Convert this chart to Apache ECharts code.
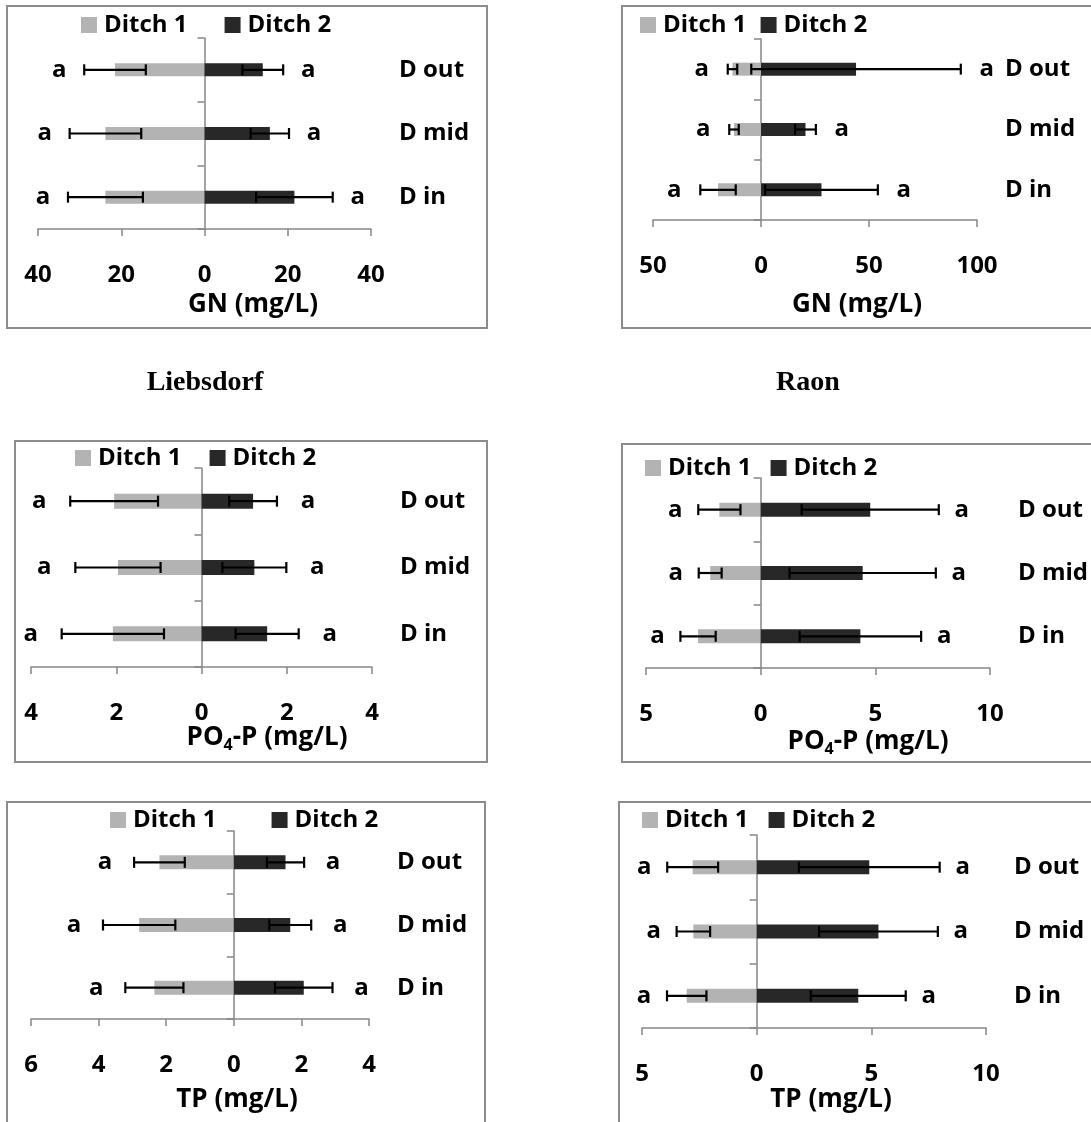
<!DOCTYPE html>
<html>
<head>
<meta charset="utf-8">
<script src="https://cdn.jsdelivr.net/npm/echarts@6/dist/echarts.min.js"></script>
<style>
html,body{margin:0;padding:0;background:#fff;}
#chart{width:1091px;height:1122px;}
</style>
</head>
<body>
<div id="chart"></div>
<script>
// ---------------- DATA ----------------
const categories = ['D in', 'D mid', 'D out'];
const seriesNames = ['Ditch 1', 'Ditch 2'];

// GN (mg/L) – Liebsdorf
const gnL_d1 = [23.8, 23.8, 21.5];
const gnL_d1Err = [9.0, 8.6, 7.4];
const gnL_d2 = [21.6, 15.7, 14.0];
const gnL_d2Err = [9.2, 4.6, 4.9];
// GN (mg/L) – Raon
const gnR_d1 = [19.9, 12.5, 13.2];
const gnR_d1Err = [8.2, 2.2, 2.2];
const gnR_d2 = [28.0, 20.6, 44.0];
const gnR_d2Err = [26.1, 4.8, 48.5];
// PO4-P (mg/L) – Liebsdorf
const poL_d1 = [2.08, 1.96, 2.05];
const poL_d1Err = [1.2, 1.0, 1.03];
const poL_d2 = [1.54, 1.24, 1.21];
const poL_d2Err = [0.74, 0.75, 0.56];
// PO4-P (mg/L) – Raon
const poR_d1 = [2.73, 2.2, 1.8];
const poR_d1Err = [0.77, 0.5, 0.92];
const poR_d2 = [4.35, 4.45, 4.78];
const poR_d2Err = [2.65, 3.19, 2.99];
// TP (mg/L) – Liebsdorf
const tpL_d1 = [2.35, 2.8, 2.2];
const tpL_d1Err = [0.86, 1.07, 0.75];
const tpL_d2 = [2.07, 1.67, 1.53];
const tpL_d2Err = [0.85, 0.62, 0.55];
// TP (mg/L) – Raon
const tpR_d1 = [3.05, 2.76, 2.79];
const tpR_d1Err = [0.86, 0.73, 1.11];
const tpR_d2 = [4.43, 5.31, 4.91];
const tpR_d2Err = [2.07, 2.59, 3.07];

// significance letters
const letters_d1 = ['a', 'a', 'a'];
const letters_d2 = ['a', 'a', 'a'];

// tick labels (Ditch 1 drawn to the left, i.e. negative side)
const gnL_ticks = [-40, -20, 0, 20, 40];
const gnR_ticks = [-50, 0, 50, 100];
const poL_ticks = [-4, -2, 0, 2, 4];
const poR_ticks = [-5, 0, 5, 10];
const tpL_ticks = [-6, -4, -2, 0, 2, 4];
const tpR_ticks = [-5, 0, 5, 10];

// texts
const siteTitles = ['Liebsdorf', 'Raon'];
const axisTitleGN = 'GN (mg/L)';
const axisTitlePO = 'PO{sub|4}-P (mg/L)';
const axisTitleTP = 'TP (mg/L)';

// ---------------- LAYOUT ----------------
const FONT = '"Open Sans", sans-serif';
const FS = 24;
const FT = 26;
const C1 = '#b3b3b3', C2 = '#282828', AX = '#868686', BOX = '#8c8c8c';

const panels = [
  {d1: gnL_d1, e1: gnL_d1Err, d2: gnL_d2, e2: gnL_d2Err, ticks: gnL_ticks, title: axisTitleGN,
   grid: {left: 38, top: 38, width: 333, height: 191}, box: [7, 6, 480, 322],
   legend: {x: 81, y: 25, gap: 37}, at: [253, 305], off: 25, bw: 13},
  {d1: gnR_d1, e1: gnR_d1Err, d2: gnR_d2, e2: gnR_d2Err, ticks: gnR_ticks, title: axisTitleGN,
   grid: {left: 653, top: 39, width: 324, height: 181}, box: [622, 6, 480, 322],
   legend: {x: 640, y: 25, gap: 14}, at: [857, 305], off: 26, bw: 13},
  {d1: poL_d1, e1: poL_d1Err, d2: poL_d2, e2: poL_d2Err, ticks: poL_ticks, title: axisTitlePO,
   grid: {left: 31, top: 468, width: 341, height: 199}, box: [15, 441, 472, 321],
   legend: {x: 75, y: 458, gap: 28}, at: [267, 738], off: 31, bw: 15},
  {d1: poR_d1, e1: poR_d1Err, d2: poR_d2, e2: poR_d2Err, ticks: poR_ticks, title: axisTitlePO,
   grid: {left: 646, top: 478, width: 344, height: 190}, box: [622, 444, 480, 318],
   legend: {x: 645, y: 468, gap: 19}, at: [868, 742], off: 23, bw: 14},
  {d1: tpL_d1, e1: tpL_d1Err, d2: tpL_d2, e2: tpL_d2Err, ticks: tpL_ticks, title: axisTitleTP,
   grid: {left: 31, top: 831, width: 338, height: 188}, box: [7, 802, 478, 330],
   legend: {x: 110, y: 820, gap: 55}, at: [237, 1100], off: 29, bw: 14},
  {d1: tpR_d1, e1: tpR_d1Err, d2: tpR_d2, e2: tpR_d2Err, ticks: tpR_ticks, title: axisTitleTP,
   grid: {left: 642, top: 835, width: 344, height: 193}, box: [619, 802, 480, 330],
   legend: {x: 642, y: 820, gap: 20}, at: [831, 1100], off: 23, bw: 14}
];
const siteTitlePos = [[205, 383], [808, 383]];

// ---------------- BUILD ----------------
const grids = [], xAxes = [], yAxes = [], series = [], legends = [], graphics = [];

function errRender(side, letters, off) {
  return function (params, api) {
    const cat = api.value(0);
    const lo = api.coord([api.value(1), cat]);
    const hi = api.coord([api.value(2), cat]);
    const y = lo[1], h = 5.5;
    const st = {stroke: '#000', lineWidth: 2.2};
    const tx = side < 0 ? lo[0] - off : hi[0] + off;
    return {
      type: 'group',
      children: [
        {type: 'line', shape: {x1: lo[0], y1: y, x2: hi[0], y2: y}, style: st},
        {type: 'line', shape: {x1: lo[0], y1: y - h, x2: lo[0], y2: y + h}, style: st},
        {type: 'line', shape: {x1: hi[0], y1: y - h, x2: hi[0], y2: y + h}, style: st},
        {type: 'text', x: tx, y: y,
         style: {text: letters[params.dataIndex], align: 'center', verticalAlign: 'middle',
                 fontFamily: FONT, fontSize: FS, fontWeight: 'bold', fill: '#000'}}
      ]
    };
  };
}

panels.forEach((p, i) => {
  grids.push(Object.assign({show: false}, p.grid));
  const t = p.ticks;
  xAxes.push({
    type: 'value', gridIndex: i, min: t[0], max: t[t.length - 1], interval: t[1] - t[0],
    axisLine: {show: true, onZero: false, lineStyle: {color: AX, width: 1.5}},
    axisTick: {show: true, length: 7, lineStyle: {color: AX, width: 1.5}},
    splitLine: {show: false},
    axisLabel: {show: true, margin: 34, showMinLabel: true, showMaxLabel: true, hideOverlap: false,
      formatter: v => String(Math.abs(v)),
      color: '#000', fontFamily: FONT, fontSize: FS, fontWeight: 'bold'}
  });
  // axis at zero with ticks between categories
  yAxes.push({
    type: 'category', gridIndex: i, data: categories, position: 'left',
    axisLine: {show: true, onZero: true, lineStyle: {color: AX, width: 1.5}},
    axisTick: {show: true, length: 7, lineStyle: {color: AX, width: 1.5}},
    axisLabel: {show: false}, splitLine: {show: false}
  });
  // category labels on the right
  yAxes.push({
    type: 'category', gridIndex: i, data: categories, position: 'right',
    axisLine: {show: false, onZero: false}, axisTick: {show: false}, splitLine: {show: false},
    axisLabel: {show: true, margin: 28, color: '#000', fontFamily: FONT, fontSize: FS, fontWeight: 'bold'}
  });
  const yi = i * 2;
  series.push({
    name: seriesNames[0], type: 'bar', xAxisIndex: i, yAxisIndex: yi, barWidth: p.bw, barGap: '-100%',
    itemStyle: {color: C1}, data: p.d1.map(v => -v), z: 2
  });
  series.push({
    name: seriesNames[1], type: 'bar', xAxisIndex: i, yAxisIndex: yi, barWidth: p.bw, barGap: '-100%',
    itemStyle: {color: C2}, data: p.d2.slice(), z: 2
  });
  series.push({
    name: seriesNames[0], type: 'custom', xAxisIndex: i, yAxisIndex: yi, z: 5,
    renderItem: errRender(-1, letters_d1, p.off), encode: {x: [1, 2], y: 0},
    data: p.d1.map((v, k) => [k, -(v + p.e1[k]), -(v - p.e1[k])])
  });
  series.push({
    name: seriesNames[1], type: 'custom', xAxisIndex: i, yAxisIndex: yi, z: 5,
    renderItem: errRender(1, letters_d2, p.off), encode: {x: [1, 2], y: 0},
    data: p.d2.map((v, k) => [k, v - p.e2[k], v + p.e2[k]])
  });
  legends.push({
    show: true, left: p.legend.x, top: p.legend.y - 12, orient: 'horizontal',
    itemWidth: 16, itemHeight: 16, itemGap: p.legend.gap, icon: 'rect', padding: 0,
    data: [{name: seriesNames[0], itemStyle: {color: C1}}, {name: seriesNames[1], itemStyle: {color: C2}}],
    textStyle: {color: '#000', fontFamily: FONT, fontSize: FS, fontWeight: 'bold', padding: [0, 0, 0, 2]}
  });
  graphics.push({
    type: 'rect', silent: true, z: -1,
    shape: {x: p.box[0], y: p.box[1], width: p.box[2], height: p.box[3]},
    style: {fill: 'none', stroke: BOX, lineWidth: 2}
  });
  graphics.push({
    type: 'text', x: p.at[0], y: p.at[1], silent: true,
    style: {text: p.title, align: 'center', verticalAlign: 'middle', fill: '#000',
      fontFamily: FONT, fontSize: FT, fontWeight: 'bold',
      rich: {sub: {fontFamily: FONT, fontSize: 16, fontWeight: 'bold', padding: [15, 0, 0, 0]}}}
  });
});

siteTitles.forEach((s, k) => {
  graphics.push({
    type: 'text', x: siteTitlePos[k][0], y: siteTitlePos[k][1], silent: true,
    style: {text: s, align: 'center', verticalAlign: 'middle', fill: '#000',
      fontFamily: '"Liberation Serif", "Times New Roman", serif', fontSize: 28, fontWeight: 'bold'}
  });
});

const chart = echarts.init(document.getElementById('chart'), null, {renderer: 'canvas'});
chart.setOption({
  animation: false,
  backgroundColor: '#fff',
  grid: grids, xAxis: xAxes, yAxis: yAxes, series: series, legend: legends,
  graphic: {elements: graphics}
});
</script>
</body>
</html>
